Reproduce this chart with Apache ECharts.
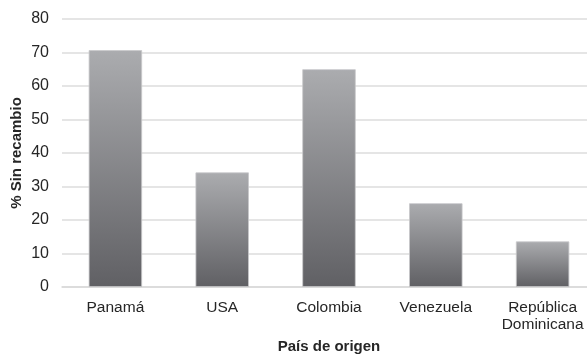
<!DOCTYPE html>
<html>
<head>
<meta charset="UTF-8">
<title>Sin recambio</title>
<style>
body { padding:0; border:0; margin:0; background:#fff; }
</style>
<script src="https://cdn.jsdelivr.net/npm/echarts@6/dist/echarts.min.js"></script>
</head>
<body>
<div id="main" style="width:587px;height:354px;"></div>
<script>
// datos
var paises = ['Panamá', 'USA', 'Colombia', 'Venezuela', 'República\nDominicana'];
var sinRecambio = [70.7, 34.2, 65.0, 25.0, 13.6];
var yTicks = [0, 80, 10]; // min, max, intervalo

var myChart = echarts.init(document.getElementById('main'));

var barColor = new echarts.graphic.LinearGradient(0, 0, 0, 1, [
    { offset: 0, color: '#abacaf' },
    { offset: 1, color: '#606064' }
]);

var option = {
    animation: false,
    textStyle: { fontFamily: 'Liberation Sans, Arial, sans-serif' },
    grid: { left: 62, right: -9, top: 19, bottom: 67, outerBoundsMode: 'none', containLabel: false },
    xAxis: {
        type: 'category',
        data: paises,
        name: 'País de origen',
        nameLocation: 'middle',
        nameGap: 52,
        nameMoveOverlap: false,
        nameTextStyle: { fontSize: 15, fontWeight: 'bold', color: '#262626' },
        axisLine: { lineStyle: { color: '#d9d9d9', width: 1.5 } },
        axisTick: { show: false },
        axisLabel: { fontSize: 15.5, color: '#262626', margin: 12, lineHeight: 17 }
    },
    yAxis: {
        type: 'value',
        min: yTicks[0],
        max: yTicks[1],
        interval: yTicks[2],
        name: '% Sin recambio',
        nameLocation: 'middle',
        nameGap: 38,
        nameMoveOverlap: false,
        nameTextStyle: { fontSize: 15, fontWeight: 'bold', color: '#262626' },
        axisLine: { show: false },
        axisTick: { show: false },
        axisLabel: { fontSize: 16, color: '#262626', margin: 13 },
        splitLine: { lineStyle: { color: '#dcdcdc', width: 1.5 } }
    },
    series: [{
        type: 'bar',
        data: sinRecambio,
        barCategoryGap: '50%',
        itemStyle: { color: barColor, borderColor: '#c8c8ca', borderWidth: 0.8 }
    }]
};

myChart.setOption(option);
</script>
</body>
</html>
